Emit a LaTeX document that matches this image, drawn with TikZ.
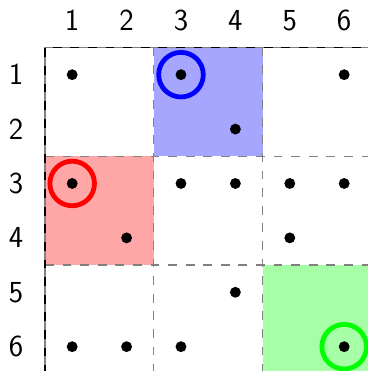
\documentclass[tikz,border=0pt]{standalone}
\begin{document}
\begin{tikzpicture}[
  gridline/.style={gray, line width=0.65pt, dash pattern=on 4.6pt off 4.6pt},
  pt/.style={circle, fill=black, inner sep=0pt, minimum size=0.2cm},
  ring/.style={circle, draw=#1, line width=2.5pt, inner sep=0pt, minimum size=0.82cm},
  lbl/.style={font=\fontsize{16}{19}\selectfont\sffamily}
]
\useasboundingbox (-0.827,0.873) rectangle (5.937,-5.947);
% coloured blocks
\fill[blue!35] (2,0) rectangle (4,-2);
\fill[red!35] (0,-2) rectangle (2,-4);
\fill[green!35] (4,-4) rectangle (6,-6);
% grid
\draw[gridline] (2,0) -- (2,-6);
\draw[gridline] (4,0) -- (4,-6);
\draw[gridline] (0,-2) -- (6,-2);
\draw[gridline] (0,-4) -- (6,-4);
\draw[gridline] (6,0) -- (6,-6) -- (0,-6);
% outer top and left border
\draw[gray, line width=0.65pt] (0,-6) -- (0,0) -- (6,0);
\draw[black, line width=0.65pt, dash pattern=on 4.6pt off 4.6pt] (0,-6) -- (0,0) -- (6,0);
% labels
\foreach \i in {1,...,6} {
  \node[lbl] (c\i) at (\i-0.5,0.5) {\i};
  \node[lbl] (r\i) at (-0.53,-\i+0.5) {\i};
}
% dots
\foreach \c/\r in {1/1,3/1,6/1,4/2,1/3,3/3,4/3,5/3,6/3,2/4,5/4,4/5,1/6,2/6,3/6,6/6} {
  \node[pt] (d\c\r) at (\c-0.5,-\r+0.5) {};
}
% rings
\node[ring=blue] (b) at (d31) {};
\node[ring=red] (rr) at (d13) {};
\node[ring=green] (g) at (d66) {};
\end{tikzpicture}
\end{document}
